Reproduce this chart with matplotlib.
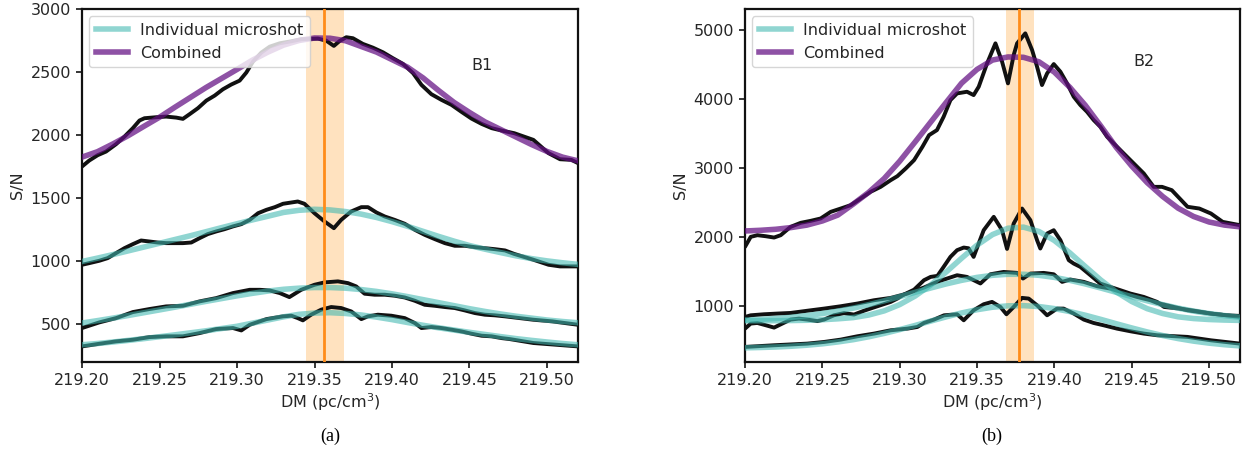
import matplotlib
matplotlib.use("Agg")
import matplotlib.pyplot as plt

# ---------------- data ----------------
FIT_DM = [219.20, 219.21, 219.22, 219.23, 219.24, 219.25, 219.26, 219.27, 219.28,
          219.29, 219.30, 219.31, 219.32, 219.33, 219.34, 219.35, 219.36, 219.37,
          219.38, 219.39, 219.40, 219.41, 219.42, 219.43, 219.44, 219.45, 219.46,
          219.47, 219.48, 219.49, 219.50, 219.51, 219.52]

# B1 (left panel)
B1_COMB_DM = [219.2000, 219.2047, 219.2101, 219.2155, 219.2220, 219.2274, 219.2328, 219.2371,
              219.2403, 219.2478, 219.2543, 219.2608, 219.2651, 219.2694, 219.2748, 219.2802,
              219.2856, 219.2909, 219.2963, 219.3017, 219.3060, 219.3103, 219.3157, 219.3211,
              219.3276, 219.3351, 219.3414, 219.3522, 219.3575, 219.3625, 219.3662, 219.3705,
              219.3748, 219.3812, 219.3877, 219.3942, 219.4006, 219.4071, 219.4136, 219.4190,
              219.4254, 219.4319, 219.4384, 219.4449, 219.4513, 219.4578, 219.4643, 219.4707,
              219.4789, 219.4912, 219.5010, 219.5084, 219.5157, 219.5200]
B1_COMB_SN = [1750, 1798, 1840, 1869, 1928, 1988, 2055, 2116,
              2134, 2142, 2147, 2139, 2129, 2166, 2214, 2274,
              2314, 2364, 2402, 2433, 2497, 2584, 2656, 2703,
              2730, 2746, 2762, 2767, 2751, 2709, 2748, 2778,
              2770, 2725, 2695, 2658, 2611, 2566, 2492, 2399,
              2325, 2280, 2240, 2184, 2131, 2089, 2055, 2036,
              2015, 1962, 1856, 1808, 1803, 1777]
B1_COMB_FIT = [1825, 1868, 1930, 1997, 2070, 2142, 2222, 2300, 2378, 2450, 2522,
               2596, 2660, 2715, 2752, 2772, 2770, 2750, 2705, 2660, 2600, 2540,
               2455, 2355, 2260, 2180, 2105, 2045, 1985, 1925, 1870, 1825, 1795]

B1_M1_DM = [219.2000, 219.2047, 219.2112, 219.2166, 219.2220, 219.2274, 219.2328, 219.2381,
            219.2435, 219.2489, 219.2543, 219.2597, 219.2651, 219.2705, 219.2759, 219.2812,
            219.2866, 219.2920, 219.2974, 219.3028, 219.3082, 219.3136, 219.3190, 219.3244,
            219.3297, 219.3392, 219.3435, 219.3500, 219.3565, 219.3625, 219.3672, 219.3737,
            219.3802, 219.3845, 219.3899, 219.3953, 219.4017, 219.4082, 219.4147, 219.4211,
            219.4276, 219.4341, 219.4405, 219.4470, 219.4535, 219.4599, 219.4664, 219.4729,
            219.4789, 219.4912, 219.5010, 219.5084, 219.5200]
B1_M1_SN = [969, 982, 1001, 1022, 1062, 1101, 1133, 1162,
            1154, 1146, 1141, 1141, 1141, 1146, 1181, 1213,
            1234, 1252, 1274, 1292, 1326, 1379, 1406, 1427,
            1454, 1472, 1454, 1379, 1313, 1260, 1326, 1393,
            1427, 1427, 1385, 1353, 1326, 1295, 1247, 1207,
            1173, 1141, 1120, 1120, 1109, 1101, 1093, 1083,
            1055, 1009, 969, 956, 956]
B1_M1_FIT = [995, 1022, 1050, 1080, 1110, 1140, 1170, 1200, 1232, 1264, 1295,
             1326, 1355, 1385, 1402, 1410, 1405, 1392, 1372, 1345, 1312, 1275,
             1235, 1195, 1157, 1122, 1093, 1066, 1040, 1018, 1000, 985, 972]

B1_M2_DM = [219.2000, 219.2112, 219.2220, 219.2328, 219.2435, 219.2543, 219.2651, 219.2759,
            219.2866, 219.2974, 219.3082, 219.3147, 219.3211, 219.3276, 219.3338, 219.3414,
            219.3500, 219.3565, 219.3651, 219.3716, 219.3769, 219.3823, 219.3888, 219.3953,
            219.4017, 219.4082, 219.4147, 219.4211, 219.4276, 219.4341, 219.4405, 219.4470,
            219.4535, 219.4599, 219.4664, 219.4729, 219.4912, 219.5034, 219.5200]
B1_M2_SN = [466, 511, 545, 593, 617, 638, 643, 678,
            704, 744, 770, 770, 765, 744, 712, 770,
            810, 829, 837, 823, 797, 739, 731, 731,
            723, 709, 683, 651, 643, 633, 625, 606,
            585, 572, 567, 559, 532, 519, 492]
B1_M2_FIT = [506, 525, 545, 566, 588, 610, 632, 655, 678, 700, 722,
             742, 760, 774, 783, 788, 788, 783, 772, 757, 738, 716,
             692, 668, 644, 620, 598, 578, 560, 545, 530, 518, 508]

B1_M3_DM = [219.2000, 219.2112, 219.2220, 219.2328, 219.2435, 219.2543, 219.2651, 219.2759,
            219.2866, 219.2974, 219.3028, 219.3082, 219.3190, 219.3297, 219.3351, 219.3392,
            219.3425, 219.3478, 219.3543, 219.3608, 219.3672, 219.3737, 219.3802, 219.3845,
            219.3909, 219.3996, 219.4082, 219.4147, 219.4190, 219.4254, 219.4319, 219.4384,
            219.4449, 219.4513, 219.4578, 219.4643, 219.4707, 219.4761, 219.4912, 219.5200]
B1_M3_SN = [320, 341, 360, 373, 394, 400, 400, 426,
            458, 466, 447, 492, 537, 559, 564, 545,
            527, 572, 612, 633, 625, 598, 537, 559,
            572, 564, 545, 506, 466, 474, 466, 453,
            439, 421, 405, 400, 386, 378, 347, 320]
B1_M3_FIT = [333, 343, 355, 368, 382, 397, 412, 428, 444, 462, 480,
             505, 530, 555, 575, 585, 588, 582, 570, 553, 533, 510,
             488, 468, 450, 432, 415, 398, 382, 368, 355, 343, 333]

# B2 (right panel)
B2_COMB_DM = [219.2000, 219.2037, 219.2080, 219.2134, 219.2188, 219.2231, 219.2295, 219.2360,
              219.2425, 219.2489, 219.2554, 219.2619, 219.2683, 219.2748, 219.2812, 219.2877,
              219.2942, 219.2985, 219.3039, 219.3093, 219.3147, 219.3190, 219.3241, 219.3284,
              219.3328, 219.3371, 219.3435, 219.3478, 219.3511, 219.3565, 219.3619, 219.3662,
              219.3700, 219.3737, 219.3759, 219.3812, 219.3856, 219.3888, 219.3920, 219.3953,
              219.3996, 219.4039, 219.4082, 219.4125, 219.4168, 219.4211, 219.4254, 219.4297,
              219.4341, 219.4384, 219.4448, 219.4513, 219.4578, 219.4642, 219.4696, 219.4759,
              219.4861, 219.4937, 219.5012, 219.5088, 219.5200]
B2_COMB_SN = [1860, 2005, 2029, 2014, 1995, 2029, 2150, 2208,
              2237, 2271, 2367, 2415, 2464, 2560, 2657, 2729,
              2826, 2884, 2995, 3116, 3309, 3478, 3551, 3744,
              3985, 4082, 4106, 4058, 4179, 4517, 4807, 4541,
              4227, 4638, 4807, 4952, 4710, 4469, 4203, 4372,
              4507, 4396, 4227, 4034, 3913, 3816, 3696, 3599,
              3454, 3357, 3213, 3068, 2923, 2729, 2729, 2681,
              2440, 2415, 2343, 2222, 2174]
B2_COMB_FIT = [2090, 2100, 2115, 2140, 2175, 2235, 2320, 2480, 2650, 2850, 3100,
               3380, 3665, 3950, 4230, 4430, 4565, 4610, 4605, 4540, 4390, 4170,
               3910, 3610, 3300, 3030, 2790, 2590, 2420, 2300, 2220, 2175, 2150]

B2_M1_DM = [219.2000, 219.2037, 219.2080, 219.2134, 219.2188, 219.2241, 219.2295, 219.2349,
            219.2403, 219.2468, 219.2511, 219.2575, 219.2640, 219.2705, 219.2769, 219.2856,
            219.2942, 219.2985, 219.3028, 219.3093, 219.3157, 219.3200, 219.3244, 219.3284,
            219.3328, 219.3371, 219.3414, 219.3445, 219.3478, 219.3543, 219.3608, 219.3662,
            219.3694, 219.3737, 219.3791, 219.3845, 219.3888, 219.3909, 219.3953, 219.3996,
            219.4039, 219.4093, 219.4125, 219.4168, 219.4233, 219.4297, 219.4362, 219.4427,
            219.4491, 219.4578, 219.4664, 219.4709, 219.4810, 219.4911, 219.5012, 219.5113,
            219.5200]
B2_M1_SN = [676, 749, 758, 725, 691, 749, 807, 821,
            807, 785, 807, 869, 900, 880, 935, 1000,
            1063, 1111, 1170, 1240, 1377, 1425, 1440, 1570,
            1715, 1812, 1850, 1840, 1715, 2101, 2295, 2101,
            1830, 2198, 2415, 2246, 1957, 1836, 2053, 2101,
            1957, 1667, 1618, 1570, 1449, 1328, 1280, 1232,
            1184, 1135, 1063, 990, 966, 932, 894, 869,
            860]
B2_M1_FIT = [790, 790, 791, 793, 797, 805, 818, 836, 873, 933, 1024,
             1148, 1307, 1495, 1695, 1885, 2038, 2130, 2146, 2083, 1952, 1773,
             1575, 1380, 1208, 1069, 965, 895, 847, 822, 808, 800, 795]

B2_M2_DM = [219.2000, 219.2037, 219.2123, 219.2209, 219.2295, 219.2403, 219.2511, 219.2619,
            219.2726, 219.2834, 219.2942, 219.3050, 219.3157, 219.3241, 219.3306, 219.3371,
            219.3435, 219.3522, 219.3586, 219.3672, 219.3759, 219.3797, 219.3845, 219.3931,
            219.3996, 219.4050, 219.4103, 219.4190, 219.4276, 219.4362, 219.4448, 219.4534,
            219.4621, 219.4664, 219.4861, 219.5012, 219.5113, 219.5200]
B2_M2_SN = [845, 869, 884, 894, 903, 935, 966, 1000,
            1039, 1087, 1121, 1184, 1271, 1353, 1401, 1449,
            1425, 1330, 1463, 1497, 1483, 1401, 1473, 1483,
            1463, 1353, 1387, 1353, 1290, 1256, 1193, 1135,
            1087, 1048, 942, 894, 869, 845]
B2_M2_FIT = [800, 810, 823, 841, 865, 894, 930, 973, 1023, 1079, 1139,
             1202, 1264, 1323, 1375, 1418, 1448, 1463, 1463, 1448, 1418, 1375,
             1323, 1264, 1202, 1139, 1079, 1023, 973, 930, 894, 865, 841]

B2_M3_DM = [219.2000, 219.2188, 219.2403, 219.2511, 219.2619, 219.2726, 219.2834, 219.2942,
            219.3050, 219.3114, 219.3157, 219.3222, 219.3287, 219.3371, 219.3414, 219.3478,
            219.3543, 219.3597, 219.3651, 219.3690, 219.3737, 219.3791, 219.3834, 219.3888,
            219.3953, 219.4017, 219.4060, 219.4125, 219.4190, 219.4254, 219.4319, 219.4405,
            219.4491, 219.4578, 219.4664, 219.4861, 219.5012, 219.5200]
B2_M3_SN = [411, 435, 459, 483, 517, 565, 604, 652,
            676, 700, 758, 807, 869, 884, 797, 942,
            1029, 1063, 990, 884, 990, 1121, 1111, 1014,
            869, 966, 966, 894, 807, 758, 724, 676,
            638, 604, 580, 556, 507, 459]
B2_M3_FIT = [398, 403, 410, 421, 436, 456, 483, 516, 558, 607, 662,
             722, 785, 846, 903, 950, 986, 1006, 1009, 996, 966, 923,
             870, 810, 747, 686, 628, 576, 532, 495, 466, 443, 426]

# best DM and its uncertainty band
B1_DM_BEST, B1_DM_LO, B1_DM_HI = 219.3563, 219.3445, 219.3688
B2_DM_BEST, B2_DM_LO, B2_DM_HI = 219.3773, 219.3685, 219.3866

TEAL = "#40b8b0"
PURPLE = "#630f82"
ORANGE = "#ff8c1a"
FS = 11.5

plt.rcParams["font.family"] = "DejaVu Sans"
plt.rcParams["font.size"] = FS
plt.rcParams["text.color"] = "#262626"
plt.rcParams["axes.labelcolor"] = "#262626"
plt.rcParams["xtick.color"] = "#262626"
plt.rcParams["ytick.color"] = "#262626"


def draw_panel(ax, micro, comb, fit_dm, band, label, yticks, ylim, label_pos):
    lo, best, hi = band
    ax.axvspan(lo, hi, color="#ff8c00", alpha=0.25, lw=0, zorder=0)

    for dm, sn, _ in micro:
        ax.plot(dm, sn, color="#111111", lw=2.8, solid_joinstyle="round",
                solid_capstyle="round", zorder=2)
    ax.plot(comb[0], comb[1], color="#111111", lw=2.8, solid_joinstyle="round",
            solid_capstyle="round", zorder=2)

    for i, (_, _, fit) in enumerate(micro):
        ax.plot(fit_dm, fit, color=TEAL, lw=4.0, alpha=0.58, zorder=3,
                solid_joinstyle="round",
                label="Individual microshot" if i == 0 else None)
    ax.plot(fit_dm, comb[2], color=PURPLE, lw=4.0, alpha=0.72, zorder=3,
            solid_joinstyle="round", label="Combined")

    ax.axvline(best, color=ORANGE, lw=2.0, zorder=4)

    ax.set_xlim(219.20, 219.52)
    ax.set_ylim(*ylim)
    ax.set_xticks([219.20, 219.25, 219.30, 219.35, 219.40, 219.45, 219.50])
    ax.set_xticklabels(["219.20", "219.25", "219.30", "219.35", "219.40",
                        "219.45", "219.50"])
    ax.set_yticks(yticks)
    ax.set_xlabel("DM (pc/cm$^3$)", labelpad=3)
    ax.set_ylabel("S/N")
    ax.text(label_pos[0], label_pos[1], label, ha="center", va="center",
            fontsize=FS)
    for s in ax.spines.values():
        s.set_linewidth(1.6)
        s.set_color("#111111")
    ax.tick_params(width=1.3, length=4.5, labelsize=FS)
    ax.legend(loc="upper left", fontsize=FS, handlelength=2.0,
              borderaxespad=0.45)


fig = plt.figure(figsize=(12.55, 4.53), dpi=100)
ax_a = fig.add_axes([82 / 1255, 1 - 361.5 / 453, 496 / 1255, 352.2 / 453])
ax_b = fig.add_axes([745 / 1255, 1 - 361.5 / 453, 495 / 1255, 352.2 / 453])

draw_panel(
    ax_a,
    [(B1_M1_DM, B1_M1_SN, B1_M1_FIT), (B1_M2_DM, B1_M2_SN, B1_M2_FIT),
     (B1_M3_DM, B1_M3_SN, B1_M3_FIT)],
    (B1_COMB_DM, B1_COMB_SN, B1_COMB_FIT), FIT_DM,
    (B1_DM_LO, B1_DM_BEST, B1_DM_HI), "B1",
    [500, 1000, 1500, 2000, 2500, 3000], (200, 3000), (219.458, 2552),
)
draw_panel(
    ax_b,
    [(B2_M1_DM, B2_M1_SN, B2_M1_FIT), (B2_M2_DM, B2_M2_SN, B2_M2_FIT),
     (B2_M3_DM, B2_M3_SN, B2_M3_FIT)],
    (B2_COMB_DM, B2_COMB_SN, B2_COMB_FIT), FIT_DM,
    (B2_DM_LO, B2_DM_BEST, B2_DM_HI), "B2",
    [1000, 2000, 3000, 4000, 5000], (200, 5300), (219.458, 4540),
)

fig.text(330 / 1255, 1 - 436 / 453, "(a)", ha="center", va="center",
         family="Liberation Serif", fontsize=13, color="black")
fig.text(992 / 1255, 1 - 436 / 453, "(b)", ha="center", va="center",
         family="Liberation Serif", fontsize=13, color="black")

fig.savefig("out.png", dpi=100)
